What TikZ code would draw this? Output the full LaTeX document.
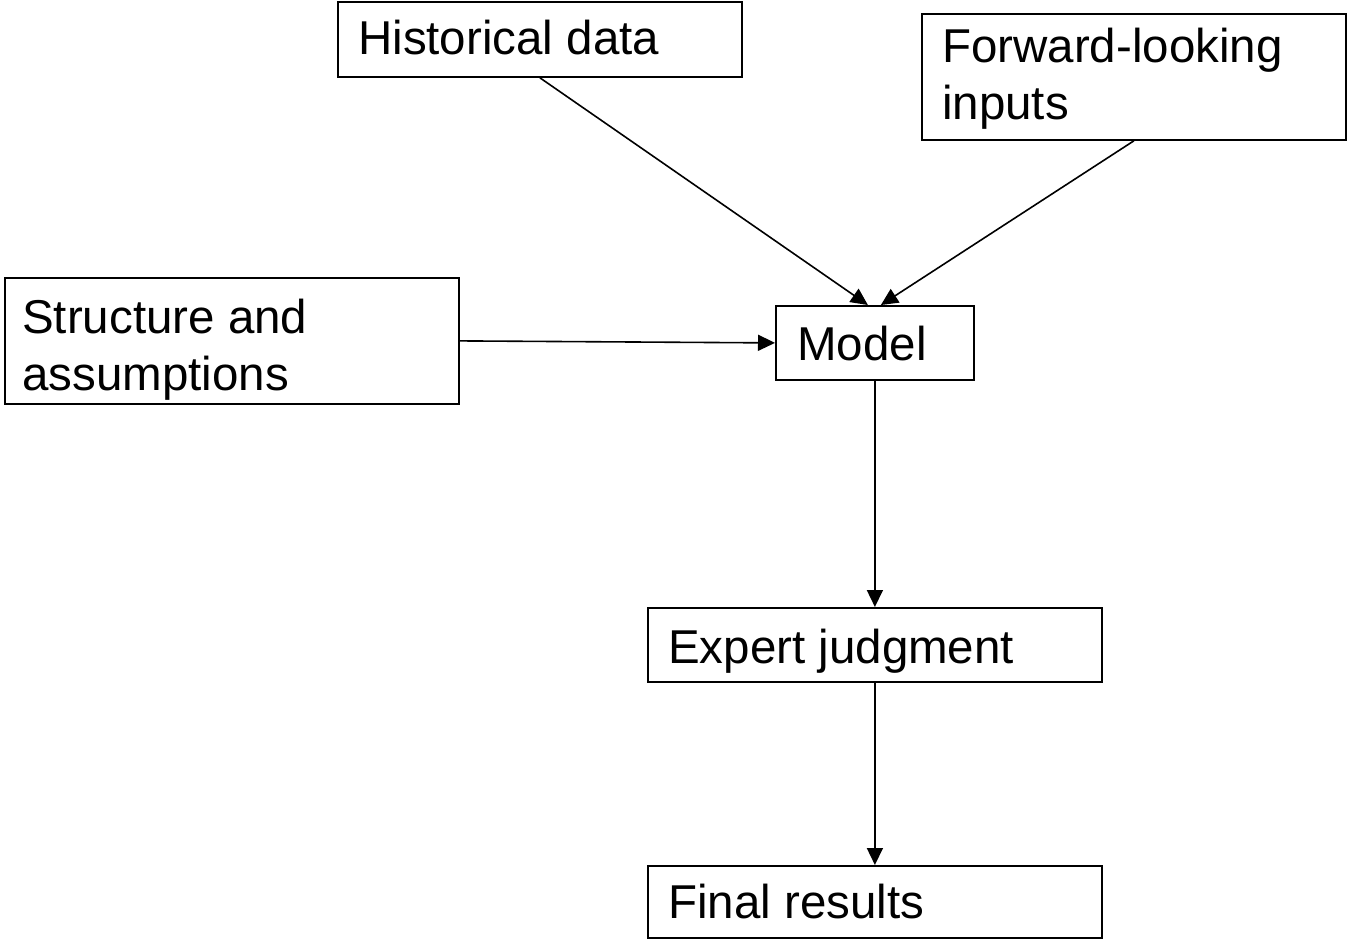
\documentclass[tikz,border=0pt]{standalone}
\usepackage{fontspec}
\setmainfont{Liberation Sans}
\usetikzlibrary{arrows.meta}
\begin{document}
\begin{tikzpicture}[x=1pt,y=-1pt,
  box/.style={draw=black,line width=1.8pt,rectangle,inner sep=0pt,anchor=north west},
  lbl/.style={anchor=base west,inner sep=0pt,font=\fontsize{47.5}{55}\selectfont},
  conn/.style={draw=black,line width=1.6pt,-{Triangle[length=17pt,width=16pt]}}]
\useasboundingbox (0,0) rectangle (1347,939);
\fill[white] (0,0) rectangle (1347,939);
\node[box,minimum width=404pt,minimum height=75pt] (hist) at (337,1) {};
\node[lbl] (histt) at (358,55) {Historical data};
\node[box,minimum width=424pt,minimum height=126pt] (fwd) at (921,13) {};
\node[lbl] (fwdt1) at (942,63) {Forward-looking};
\node[lbl] (fwdt2) at (942,120) {inputs};
\node[box,minimum width=454pt,minimum height=126pt] (struct) at (4,277) {};
\node[lbl] (structt1) at (22,333) {Structure and};
\node[lbl] (structt2) at (22,390) {assumptions};
\node[box,minimum width=198pt,minimum height=74pt] (model) at (775,305) {};
\node[lbl] (modelt) at (797,360) {Model};
\node[box,minimum width=454pt,minimum height=74pt] (expert) at (647,607) {};
\node[lbl] (expertt) at (668,663) {Expert judgment};
\node[box,minimum width=454pt,minimum height=72pt] (final) at (647,865) {};
\node[lbl] (finalt) at (668,918) {Final results};
\draw[conn] (hist.south) -- ([xshift=-7pt]model.north);
\draw[conn] (fwd.south) -- ([xshift=6pt]model.north);
\draw[conn] (struct.east) -- (model.west);
\draw[conn] (model.south) -- (expert.north -| model.south);
\draw[conn] (expert.south -| model.south) -- (final.north -| model.south);
\end{tikzpicture}
\end{document}
